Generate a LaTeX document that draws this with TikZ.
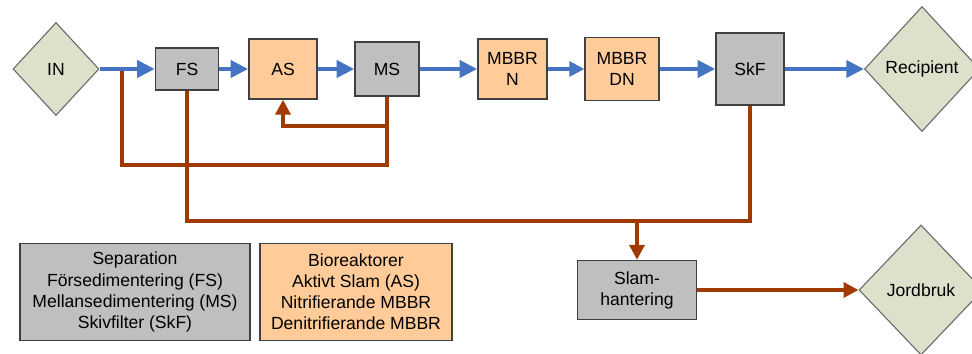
\documentclass[tikz,border=0pt]{standalone}
\usepackage{fontspec}
\setmainfont{Liberation Sans}
\usetikzlibrary{arrows.meta,shapes.geometric}
\definecolor{sepgray}{RGB}{191,191,191}
\definecolor{bioorange}{RGB}{255,204,153}
\definecolor{endgreen}{RGB}{221,224,203}
\definecolor{flowblue}{RGB}{70,116,196}
\definecolor{sludgebrown}{RGB}{160,58,0}

\begin{document}
\begin{tikzpicture}[font=\fontsize{10}{12}\selectfont,
  unit/.style={draw=black!75, line width=0.8pt, align=center, inner sep=1pt},
  sep/.style={unit, fill=sepgray},
  bio/.style={unit, fill=bioorange},
  endpt/.style={shape=diamond, draw=black!60, line width=0.6pt, fill=endgreen, inner sep=0pt},
  flow/.style={flowblue, line width=2.6pt, -{Triangle[length=10pt,width=9.5pt]}},
  sludge/.style={sludgebrown, line width=2pt},
  sludgetip/.style={-{Triangle[length=8.5pt,width=8.5pt]}}]
  \useasboundingbox (0,0) rectangle (19.44,-7.08);

  % process line
  \node[endpt, minimum width=1.72cm, minimum height=1.86cm] (IN) at (1.12,-1.38) {IN};
  \node[sep, minimum width=1.26cm, minimum height=0.84cm] (FS) at (3.74,-1.38) {FS};
  \node[bio, minimum width=1.36cm, minimum height=1.2cm] (AS) at (5.66,-1.38) {AS};
  \node[sep, minimum width=1.28cm, minimum height=1.08cm] (MS) at (7.74,-1.38) {MS};
  \node[bio, minimum width=1.38cm, minimum height=1.2cm] (MBBRN) at (10.25,-1.38) {MBBR\\N};
  \node[bio, minimum width=1.48cm, minimum height=1.26cm] (MBBRDN) at (12.44,-1.38) {MBBR\\DN};
  \node[sep, minimum width=1.36cm, minimum height=1.44cm] (SkF) at (15.0,-1.38) {SkF};
  \node[endpt, minimum width=2.3cm, minimum height=2.5cm] (Recipient) at (18.44,-1.38) {Recipient};

  % sludge line
  \node[sep, minimum width=2.38cm, minimum height=1.18cm] (Slam) at (12.74,-5.8) {Slam-\\hantering};
  \node[endpt, minimum width=2.48cm, minimum height=2.6cm] (Jordbruk) at (18.42,-5.8) {Jordbruk};

  % legend
  \node[sep, minimum width=4.6cm, minimum height=1.94cm] (legSep) at (2.7,-5.84)
    {Separation\\Försedimentering (FS)\\Mellansedimentering (MS)\\Skivfilter (SkF)};
  \node[bio, minimum width=3.84cm, minimum height=1.94cm] (legBio) at (7.12,-5.84)
    {Bioreaktorer\\Aktivt Slam (AS)\\Nitrifierande MBBR\\Denitrifierande MBBR};

  \coordinate (tapIN) at (2.44,-1.38);

  \draw[sludge] (MS.south) -- (MS.south |- 0,-3.3) -| (tapIN);
  \draw[sludge, sludgetip] (MS.south |- 0,-2.52) -| (AS.south);
  \draw[sludge] (FS.south) |- (SkF.south |- 0,-4.42) -- (SkF.south);
  \draw[sludge, sludgetip] (Slam.north |- 0,-4.42) -- (Slam.north);
  \draw[sludge, sludgetip] (Slam.east) -- (Jordbruk.west);

  \draw[flow] (IN.east) -- (FS.west);
  \draw[flow] (FS) -- (AS);
  \draw[flow] (AS) -- (MS);
  \draw[flow] (MS) -- (MBBRN);
  \draw[flow, line width=1.9pt, -{Triangle[length=8.5pt,width=8.5pt]}] (MBBRN) -- (MBBRDN);
  \draw[flow] (MBBRDN) -- (SkF);
  \draw[flow] (SkF) -- (Recipient.west);
\end{tikzpicture}
\end{document}
